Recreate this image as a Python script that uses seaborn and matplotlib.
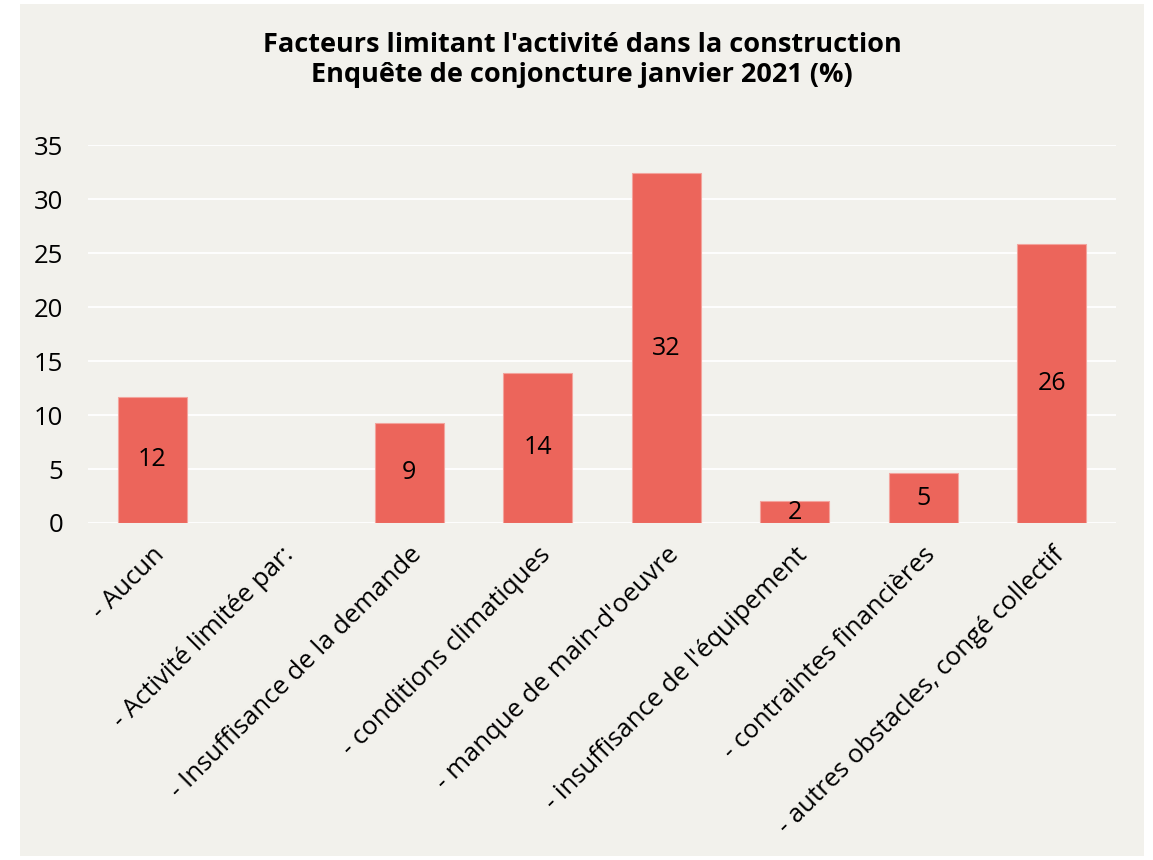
import numpy as np
import pandas as pd
import matplotlib
matplotlib.use("Agg")
import matplotlib.pyplot as plt
from matplotlib.patches import Rectangle
import seaborn as sns

# Data
categories = [
    "- Aucun",
    "- Activité limitée par:",
    "- Insuffisance de la demande",
    "- conditions climatiques",
    "- manque de main-d'oeuvre",
    "- insuffisance de l'équipement",
    "- contraintes financières",
    "- autres obstacles, congé collectif",
]
values = [11.7, np.nan, 9.3, 13.9, 32.4, 2.0, 4.6, 25.8]

bg = "#f2f1ec"
bar_color = "#ec655b"

sns.set_theme(style="whitegrid")
plt.rcParams["font.family"] = ["Open Sans", "DejaVu Sans"]
plt.rcParams["text.color"] = "black"

df = pd.DataFrame({"cat": categories, "val": values})

fig = plt.figure(figsize=(11.53, 8.6), dpi=100, facecolor="white")
fig.patches.append(Rectangle((20 / 1153, 4 / 860), 1124 / 1153, 852 / 860,
                             transform=fig.transFigure, facecolor=bg,
                             edgecolor="none", zorder=-1))
ax = fig.add_axes([88 / 1153, 1 - 523 / 860, 1028 / 1153, 378 / 860])
ax.set_facecolor(bg)

sns.barplot(data=df, x="cat", y="val", color=bar_color, width=0.54,
            saturation=1, edgecolor="#f3a49d", linewidth=0.8, ax=ax)

for i, v in enumerate(values):
    if not np.isnan(v):
        ax.text(i, v / 2, f"{v:.0f}", ha="center", va="center",
                fontsize=18, color="black")

ax.set_ylim(0, 35)
ax.set_xlim(-0.5, 7.5)
ax.set_yticks(range(0, 36, 5))
ax.grid(axis="y", color="white", linewidth=1.3)
ax.grid(axis="x", visible=False)
ax.set_axisbelow(True)
for s in ax.spines.values():
    s.set_visible(False)
ax.set_xlabel("")
ax.set_ylabel("")
ax.tick_params(axis="both", length=0, labelsize=18.5, colors="black")
ax.tick_params(axis="y", pad=18)
ax.set_xticks(range(len(categories)))
ax.set_xticklabels(categories, rotation=45, ha="right", rotation_mode="anchor")
ax.tick_params(axis="x", pad=14)

fig.text(582 / 1153, 1 - 60 / 860,
         "Facteurs limitant l'activité dans la construction\n"
         "Enquête de conjoncture janvier 2021 (%)",
         ha="center", va="center", fontsize=19.5, fontweight="bold",
         linespacing=1.2, color="black")

fig.savefig("out.png", dpi=100, facecolor="white")
